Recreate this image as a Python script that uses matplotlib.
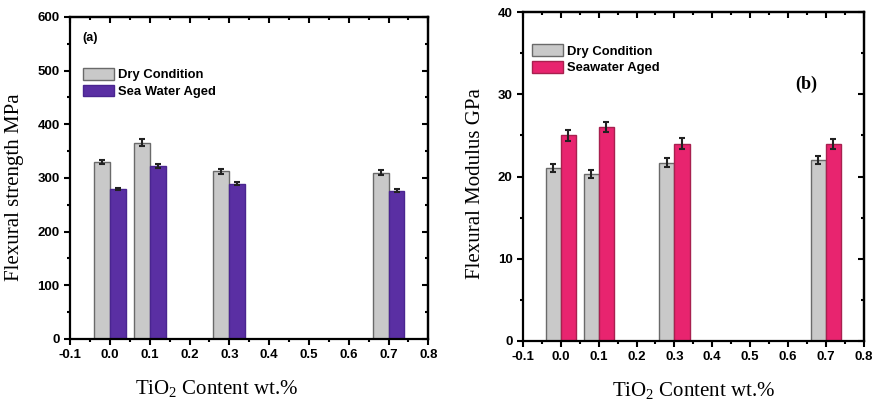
import matplotlib.pyplot as plt
import numpy as np

plt.rcParams['mathtext.fontset'] = 'custom'
plt.rcParams['mathtext.rm'] = 'Liberation Serif'
plt.rcParams['mathtext.it'] = 'Liberation Serif:italic'

# TiO2 content groups
tio2 = [0.0, 0.1, 0.3, 0.7]
xtick_vals = [-0.1, 0.0, 0.1, 0.2, 0.3, 0.4, 0.5, 0.6, 0.7, 0.8]

# panel (a) flexural strength, MPa
strength_dry = [330, 366, 312, 310]
strength_dry_err = [4, 6, 4, 4]
strength_wet = [280, 322, 289, 276]
strength_wet_err = [2, 4, 3, 3]

# panel (b) flexural modulus, GPa
modulus_dry = [21.0, 20.3, 21.7, 22.0]
modulus_dry_err = [0.5, 0.5, 0.6, 0.5]
modulus_wet = [25.0, 26.0, 24.0, 24.0]
modulus_wet_err = [0.7, 0.6, 0.7, 0.6]

tick_font = dict(family='Liberation Sans', weight='bold', size=9.5)
label_font = dict(family='Liberation Serif', size=15)
xlabel_text = r'TiO$_\mathrm{2}$ Content wt.%'

bw = 0.04


def style_axes(ax, ymax, ystep, yminor):
    ax.set_xlim(-0.1, 0.8)
    ax.set_ylim(0, ymax)
    ax.set_xticks(xtick_vals)
    ax.set_xticklabels([f"{v:.1f}" for v in xtick_vals], **tick_font)
    yt = np.arange(0, ymax + 1e-9, ystep)
    ax.set_yticks(yt)
    ax.set_yticklabels([f"{int(v)}" for v in yt], **tick_font)
    ax.set_xticks(np.arange(-0.05, 0.8, 0.1), minor=True)
    ax.set_yticks(np.arange(yminor, ymax, ystep), minor=True)
    ax.tick_params(which='both', direction='out', width=1.5, top=False, right=False)
    ax.tick_params(which='major', length=4)
    ax.tick_params(which='minor', length=2.5)
    for s in ax.spines.values():
        s.set_linewidth(1.6)
    # inward ticks on top and right, like the Origin frame
    sec = ax.secondary_yaxis('right')
    sec.set_yticks(yt)
    sec.set_yticks(np.arange(yminor, ymax, ystep), minor=True)
    sec.tick_params(which='both', direction='in', width=1.5, labelright=False)
    sec.tick_params(which='major', length=4)
    sec.tick_params(which='minor', length=2.5)
    sec.spines['right'].set_linewidth(1.6)
    sect = ax.secondary_xaxis('top')
    sect.set_xticks(xtick_vals)
    sect.set_xticks(np.arange(-0.05, 0.8, 0.1), minor=True)
    sect.tick_params(which='both', direction='in', width=1.5, labeltop=False)
    sect.tick_params(which='major', length=4)
    sect.tick_params(which='minor', length=2.5)
    sect.spines['top'].set_linewidth(1.6)


fig = plt.figure(figsize=(8.76, 4.03), dpi=100)

# (a)
ax1 = fig.add_axes([0.080, 0.159, 0.409, 0.799])
x = np.array(tio2)
ax1.bar(x - bw / 2, strength_dry, bw, yerr=strength_dry_err, color='#c9c9c9',
        edgecolor='#6a6a6a', linewidth=1, capsize=2.5,
        error_kw=dict(ecolor='#222222', elinewidth=1.5, capthick=1.5),
        label='Dry Condition')
ax1.bar(x + bw / 2, strength_wet, bw, yerr=strength_wet_err, color='#5a2fa3',
        edgecolor='#4a2590', linewidth=1, capsize=2.5,
        error_kw=dict(ecolor='#222222', elinewidth=1.5, capthick=1.5),
        label='Sea Water Aged')
style_axes(ax1, 600, 100, 50)
ax1.set_ylabel('Flexural strength MPa', **label_font)
ax1.set_xlabel(xlabel_text, **label_font)
ax1.yaxis.set_label_coords(-0.128, 0.47)
ax1.xaxis.set_label_coords(0.41, -0.12)
ax1.text(0.035, 0.925, '(a)', transform=ax1.transAxes, family='Liberation Sans',
         weight='bold', size=9)
ax1.legend(loc='upper left', bbox_to_anchor=(0.01, 0.87), frameon=False,
           prop=dict(family='Liberation Sans', weight='bold', size=9.4),
           handlelength=2.4, handleheight=1.0, handletextpad=0.3, labelspacing=0.25,
           borderaxespad=0.3)

# (b)
ax2 = fig.add_axes([0.597, 0.154, 0.389, 0.816])
ax2.bar(x - bw / 2, modulus_dry, bw, yerr=modulus_dry_err, color='#c9c9c9',
        edgecolor='#6a6a6a', linewidth=1, capsize=2.5,
        error_kw=dict(ecolor='#222222', elinewidth=1.5, capthick=1.5),
        label='Dry Condition')
ax2.bar(x + bw / 2, modulus_wet, bw, yerr=modulus_wet_err, color='#e8246f',
        edgecolor='#a8204f', linewidth=1, capsize=2.5,
        error_kw=dict(ecolor='#222222', elinewidth=1.5, capthick=1.5),
        label='Seawater Aged')
style_axes(ax2, 40, 10, 5)
ax2.set_ylabel('Flexural Modulus GPa', **label_font)
ax2.set_xlabel(xlabel_text, **label_font)
ax2.yaxis.set_label_coords(-0.111, 0.48)
ax2.xaxis.set_label_coords(0.5, -0.12)
ax2.text(0.80, 0.765, '(b)', transform=ax2.transAxes, family='Liberation Serif',
         weight='bold', size=13)
ax2.legend(loc='upper left', bbox_to_anchor=(0.0, 0.93), frameon=False,
           prop=dict(family='Liberation Sans', weight='bold', size=9.4),
           handlelength=2.4, handleheight=1.0, handletextpad=0.3, labelspacing=0.25,
           borderaxespad=0.3)

fig.savefig('out.png', dpi=100)
